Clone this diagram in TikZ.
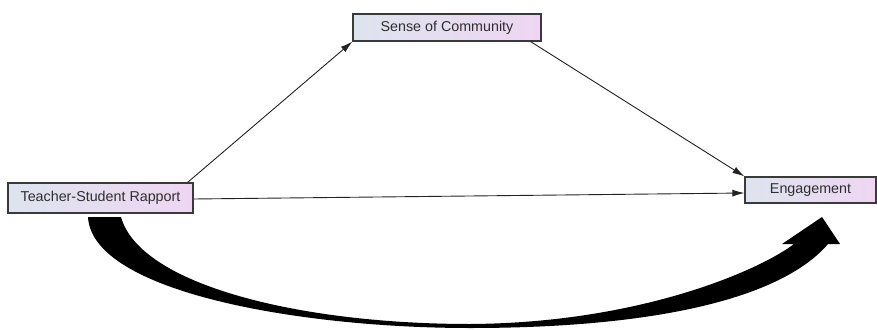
\documentclass[tikz,border=0pt]{standalone}
\usepackage{fontspec}
\setmainfont{Liberation Sans}
\usetikzlibrary{arrows.meta,calc}
\definecolor{boxline}{HTML}{3A3A3A}
\definecolor{boxleft}{HTML}{DDE4EE}
\definecolor{boxright}{HTML}{EED6F2}
\definecolor{txt}{HTML}{2E2E2E}
\definecolor{conncol}{HTML}{222222}
\tikzset{
  varbox/.style={draw=boxline, line width=1.2pt, left color=boxleft, right color=boxright,
    shading angle=90, inner sep=0pt, text=txt, font=\fontsize{14.3}{16}\selectfont},
  conn/.style={draw=conncol, line width=0.9pt, -{Latex[length=12pt,width=7pt]}},
  bigarrow/.style={fill=black, draw=none}
}
\begin{document}
\begin{tikzpicture}[x=1pt,y=-1pt]
\useasboundingbox (0,0) rectangle (877,329);
\node[varbox, minimum width=188pt, minimum height=27pt] (sc) at (447,27.5) {Sense of Community};
\node[varbox, minimum width=185pt, minimum height=30pt] (rap) at (100.5,198) {Teacher-Student Rapport};
\node[varbox, minimum width=131pt, minimum height=26pt] (eng) at (810.5,190) {Engagement};
\draw[conn] ([xshift=-6pt]rap.north east) -- (sc.south west);
\draw[conn] ([xshift=-11pt]sc.south east) -- (eng.north west);
\draw[conn] ([yshift=-1pt]rap.east) -- ([yshift=-3pt]eng.west);
% big curved arrow
\fill[bigarrow] (88,217) .. controls (92,292) and (300,328) .. (470,328)
  .. controls (650,328) and (780,300) .. (828,244)
  -- (840,244) -- (822,217) -- (782,244) -- (794,244)
  .. controls (760,270) and (640,323) .. (470,324)
  .. controls (300,324) and (140,285) .. (121,217) -- cycle;
\end{tikzpicture}
\end{document}
